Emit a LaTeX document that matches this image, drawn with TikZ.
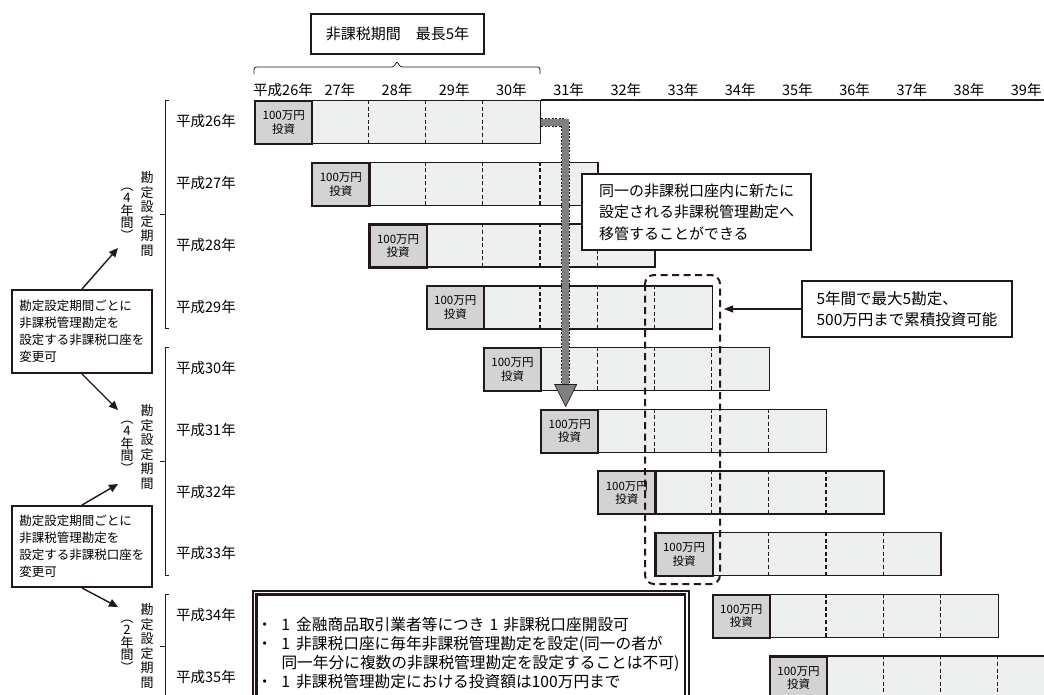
\documentclass[tikz,border=0pt]{standalone}
\usepackage{fontspec}
\setmainfont{Noto Sans CJK JP}
\usetikzlibrary{arrows.meta}

\definecolor{ink}{HTML}{231815}
\definecolor{barfill}{HTML}{EEEFEF}
\definecolor{investfill}{HTML}{D3D3D3}
\definecolor{movegray}{HTML}{808080}

\tikzset{
    yearbar/.style={draw=ink, line width=1.4pt, fill=barfill, anchor=north west,
        minimum width=286pt, minimum height=43pt, inner sep=0pt},
    investbox/.style={draw=ink, line width=2.2pt, fill=investfill, anchor=north west,
        minimum width=57.2pt, minimum height=43pt, inner sep=0pt, align=center,
        font=\fontsize{11.5}{13.5}\selectfont},
    yeardiv/.style={draw=ink, line width=1.3pt, dash pattern=on 4pt off 2.6pt},
    yearlabel/.style={inner sep=0pt, font=\fontsize{14.5}{16}\selectfont},
    notebox/.style={draw=ink, line width=2pt, fill=white, align=left, inner sep=0pt,
        font=\fontsize{15}{21.5}\selectfont},
    sidebox/.style={draw=ink, line width=2pt, fill=white, align=left, inner sep=0pt,
        minimum width=140pt, font=\fontsize{12.5}{17}\selectfont},
    vlabel/.style={align=center, inner sep=0pt, font=\fontsize{13}{14.5}\selectfont},
    vparen/.style={align=center, inner sep=0pt, font=\fontsize{13}{12.5}\selectfont},
    sidearrow/.style={draw=ink, line width=1.4pt, -{Triangle[length=9pt,width=8pt]}},
    bracket/.style={draw=ink, line width=0.9pt},
    movebody/.style={draw=movegray, line width=7pt,
        preaction={draw=ink, line width=9pt, dash pattern=on 2pt off 1.5pt}},
}

\begin{document}
\begin{tikzpicture}[x=1pt, y=-1pt]
    \useasboundingbox (0,0) rectangle (1044,695);
    \clip (0,0) rectangle (1044,695);

    % Tax-free period
    \node[draw=ink, line width=2pt, minimum width=173pt, minimum height=40pt,
        font=\fontsize{15}{18}\selectfont] (span) at (397.5,34) {非課税期間　最長5年};
    \draw[bracket, line width=0.8pt, rounded corners=2.5pt]
        (254,74) |- (394,67) -- (397,61) -- (400,67) -| (540,74);

    % Year axis
    \node[yearlabel] (col0) at (283,90) {平成26年};
    \foreach \k in {1,...,13}{
        \pgfmathtruncatemacro\yr{26+\k}
        \node[yearlabel] (col\k) at ({254+57.2*(\k+0.5)},90) {\yr{}年};
    }

    % One account per year: bar, dividers, first-year investment
    \foreach \i in {0,...,9}{
        \pgfmathsetmacro\bx{254+57.2*\i}
        \pgfmathsetmacro\by{100+61.7*\i}
        \pgfmathtruncatemacro\yr{26+\i}
        \node[yearbar] (bar\i) at (\bx,\by) {};
        \foreach \k in {2,3,4}
            \draw[yeardiv] ({\bx+57.2*\k},\by) -- ({\bx+57.2*\k},\by+43);
        \node[investbox] (inv\i) at (\bx,\by) {100万円\\投資};
        \node[yearlabel, anchor=west] (yr\i) at (176,\by+21.5) {平成\yr{}年};
    }
    \draw[ink, line width=1.1pt] (bar0.north east) -- (1044,100);

    % Setting periods on the left
    \foreach \t/\b in {100/328, 347/575, 594/698}{
        \draw[bracket] (169,\t) -- (165,\t) -- (165,\b) -- (169,\b);
        \draw[bracket] (165,{(\t+\b)/2}) -- (160,{(\t+\b)/2});
    }
    \node[vlabel] (term1) at (147,214) {勘\\定\\設\\定\\期\\間};
    \node[vparen] (len1) at (127,214) {︵\\4\\年\\間\\︶};
    \node[vlabel] (term2) at (147,447) {勘\\定\\設\\定\\期\\間};
    \node[vparen] (len2) at (127,447) {︵\\4\\年\\間\\︶};
    \node[vlabel] (term3) at (147,646) {勘\\定\\設\\定\\期\\間};
    \node[vparen] (len3) at (127,646) {︵\\2\\年\\間\\︶};

    % Changing the account
    \node[sidebox, minimum height=83pt] (swap1) at (82,331.5)
        {勘定設定期間ごとに\\非課税管理勘定を\\設定する非課税口座を\\変更可};
    \node[sidebox, minimum height=81pt] (swap2) at (82,546.5)
        {勘定設定期間ごとに\\非課税管理勘定を\\設定する非課税口座を\\変更可};
    \coordinate (swap1up) at (118,248);
    \coordinate (swap1dn) at (118,410);
    \coordinate (swap2up) at (118,484);
    \coordinate (swap2dn) at (118,607);
    \draw[sidearrow] (swap1.north) -- (swap1up);
    \draw[sidearrow] (swap1.south) -- (swap1dn);
    \draw[sidearrow] (swap2.north) -- (swap2up);
    \draw[sidearrow] (swap2.south) -- (swap2dn);

    % Rollover into a new account
    \coordinate (movetip) at ([xshift=-4pt,yshift=2pt]inv5.north);
    \draw[movebody] (bar0.east) -| ([yshift=22pt]movetip);
    \filldraw[fill=movegray, draw=ink, line width=0.6pt]
        ([xshift=-11pt,yshift=22pt]movetip) -- ([xshift=11pt,yshift=22pt]movetip)
        -- (movetip) -- cycle;
    \node[notebox, minimum width=229pt, minimum height=76pt] (movenote) at (696.5,212)
        {同一の非課税口座内に新たに\\設定される非課税管理勘定へ\\移管することができる};

    % Five accounts held at once
    \draw[ink, line width=2pt, dash pattern=on 7pt off 4.5pt, rounded corners=9pt]
        (645,275) rectangle (720,584);
    \node[notebox, minimum width=210pt, minimum height=56pt,
        font=\fontsize{15.5}{21}\selectfont] (capnote) at (907,309)
        {5年間で最大5勘定、\\500万円まで累積投資可能};
    \coordinate (capend) at (724,309);
    \draw[ink, line width=1.1pt, -{Triangle[length=9pt,width=7pt]}] (capnote.west) -- (capend);

    % Rules
    \node[draw=ink, line width=1.6pt, fill=white,
        anchor=north west, text width=428pt, inner xsep=4pt, inner ysep=26pt,
        align=left, font=\fontsize{15.7}{19}\selectfont] (rules) at (252,590)
        {・\hspace{9pt}1\hspace{6pt}金融商品取引業者等につき\hspace{5pt}1\hspace{5pt}非課税口座開設可\\
         ・\hspace{9pt}1\hspace{6pt}非課税口座に毎年非課税管理勘定を設定(同一の者が\\
         \phantom{・}\hspace{9pt}同一年分に複数の非課税管理勘定を設定することは不可)\\
         ・\hspace{9pt}1\hspace{6pt}非課税管理勘定における投資額は100万円まで\\[30pt]};
    \draw[ink, line width=2.6pt] ([xshift=4.5pt,yshift=-4.5pt]rules.north west)
        rectangle ([xshift=-4.5pt,yshift=4.5pt]rules.south east);
\end{tikzpicture}
\end{document}
